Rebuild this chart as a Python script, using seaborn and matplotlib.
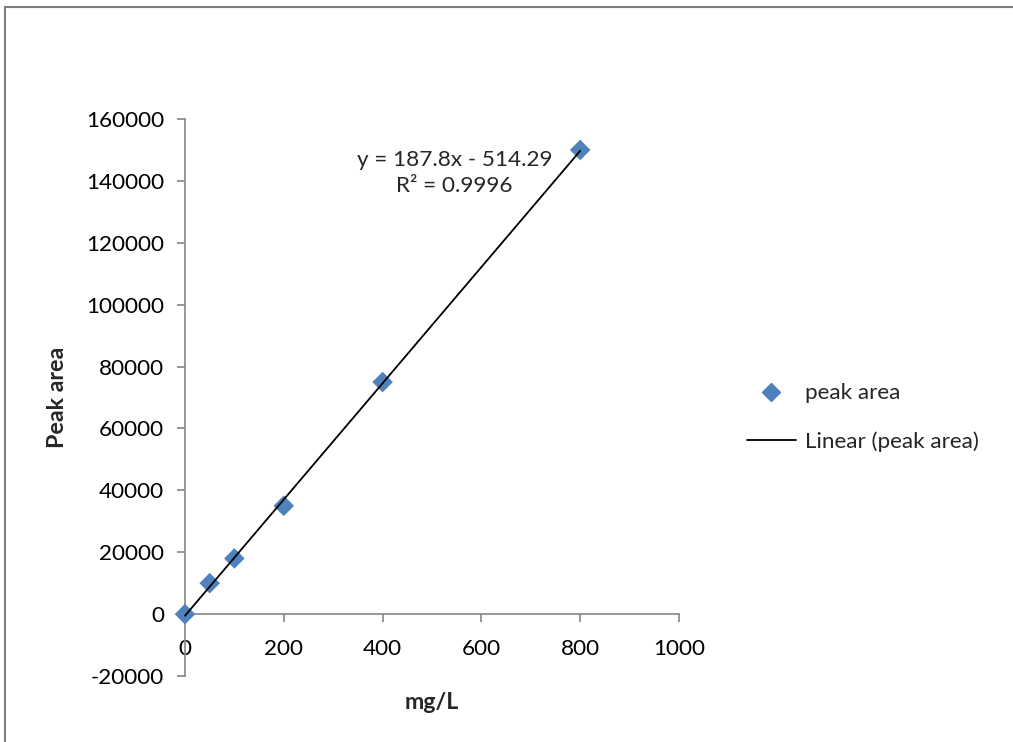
import numpy as np
import pandas as pd
import matplotlib
matplotlib.use("Agg")
import matplotlib.pyplot as plt
from matplotlib.lines import Line2D
import seaborn as sns

# Calibration data
conc = [0, 50, 100, 200, 400, 800]          # mg/L
peak_area = [0, 10000, 18000, 35000, 75000, 150000]
y_ticks = [-20000, 0, 20000, 40000, 60000, 80000, 100000, 120000, 140000, 160000]
x_ticks = [0, 200, 400, 600, 800, 1000]

df = pd.DataFrame({"mg/L": conc, "Peak area": peak_area})

sns.set_theme(style="white")
plt.rcParams['font.family'] = ['Lato', 'DejaVu Sans']
FS = 16.2

fig = plt.figure(figsize=(10.13, 7.42), dpi=100)
ax = fig.add_axes([0.1826, 0.0889, 0.4877, 0.7507])

# linear trend line over the data range
slope, intercept = np.polyfit(df["mg/L"], df["Peak area"], 1)
pred = slope * df["mg/L"] + intercept
r2 = 1 - ((df["Peak area"] - pred) ** 2).sum() / ((df["Peak area"] - df["Peak area"].mean()) ** 2).sum()
x_fit = np.array([df["mg/L"].min(), df["mg/L"].max()])
ax.plot(x_fit, slope * x_fit + intercept, color="black", lw=1.3, zorder=3, clip_on=False)

sns.scatterplot(data=df, x="mg/L", y="Peak area", ax=ax, marker="D", s=110,
                color="#4F81BD", edgecolor="none", zorder=2, legend=False, clip_on=False)

for s in ["top", "right"]:
    ax.spines[s].set_visible(False)
ax.spines["bottom"].set_position(("data", 0))
for s in ["left", "bottom"]:
    ax.spines[s].set_color("#868686")
    ax.spines[s].set_linewidth(1.2)
    ax.spines[s].set_zorder(1)

ax.set_xlim(0, 1000)
ax.set_ylim(-20000, 160000)
ax.set_xticks(x_ticks)
ax.set_yticks(y_ticks)
ax.set_xticklabels([str(v) for v in x_ticks])
ax.set_yticklabels([str(v) for v in y_ticks])
ax.tick_params(axis="both", which="major", direction="out", length=6, width=1.2,
               color="#868686", labelcolor="black", labelsize=FS, left=True, bottom=True)
ax.tick_params(axis="x", pad=12)
ax.tick_params(axis="y", pad=9)

ax.set_xlabel("mg/L", fontsize=FS + 0.5, fontweight="bold")
ax.set_ylabel("Peak area", fontsize=FS + 0.5, fontweight="bold")
ax.xaxis.set_label_coords(0.5, -0.028)
ax.yaxis.set_label_coords(-0.237, 0.5)

ax.text(546, 142500, f"y = {slope:.1f}x - {abs(intercept):.2f}\nR² = {r2:.4f}",
        ha="center", va="center", multialignment="center", fontsize=FS, linespacing=1.35)

handles = [Line2D([], [], marker="D", color="#4F81BD", ls="none", markersize=9),
           Line2D([], [], color="black", lw=1.3)]
fig.legend(handles, ["peak area", "Linear (peak area)"], loc="center left",
           bbox_to_anchor=(0.717, 0.437), frameon=False, fontsize=FS,
           handlelength=2.2, handletextpad=0.4, labelspacing=1.25)

# surrounding chart frame
fig.add_artist(Line2D([0.005, 1.0], [0.991, 0.991], color="#7f7f7f", lw=1.5))
fig.add_artist(Line2D([0.005, 0.005], [0.0, 0.991], color="#7f7f7f", lw=1.5))

fig.savefig("out.png", dpi=100)
